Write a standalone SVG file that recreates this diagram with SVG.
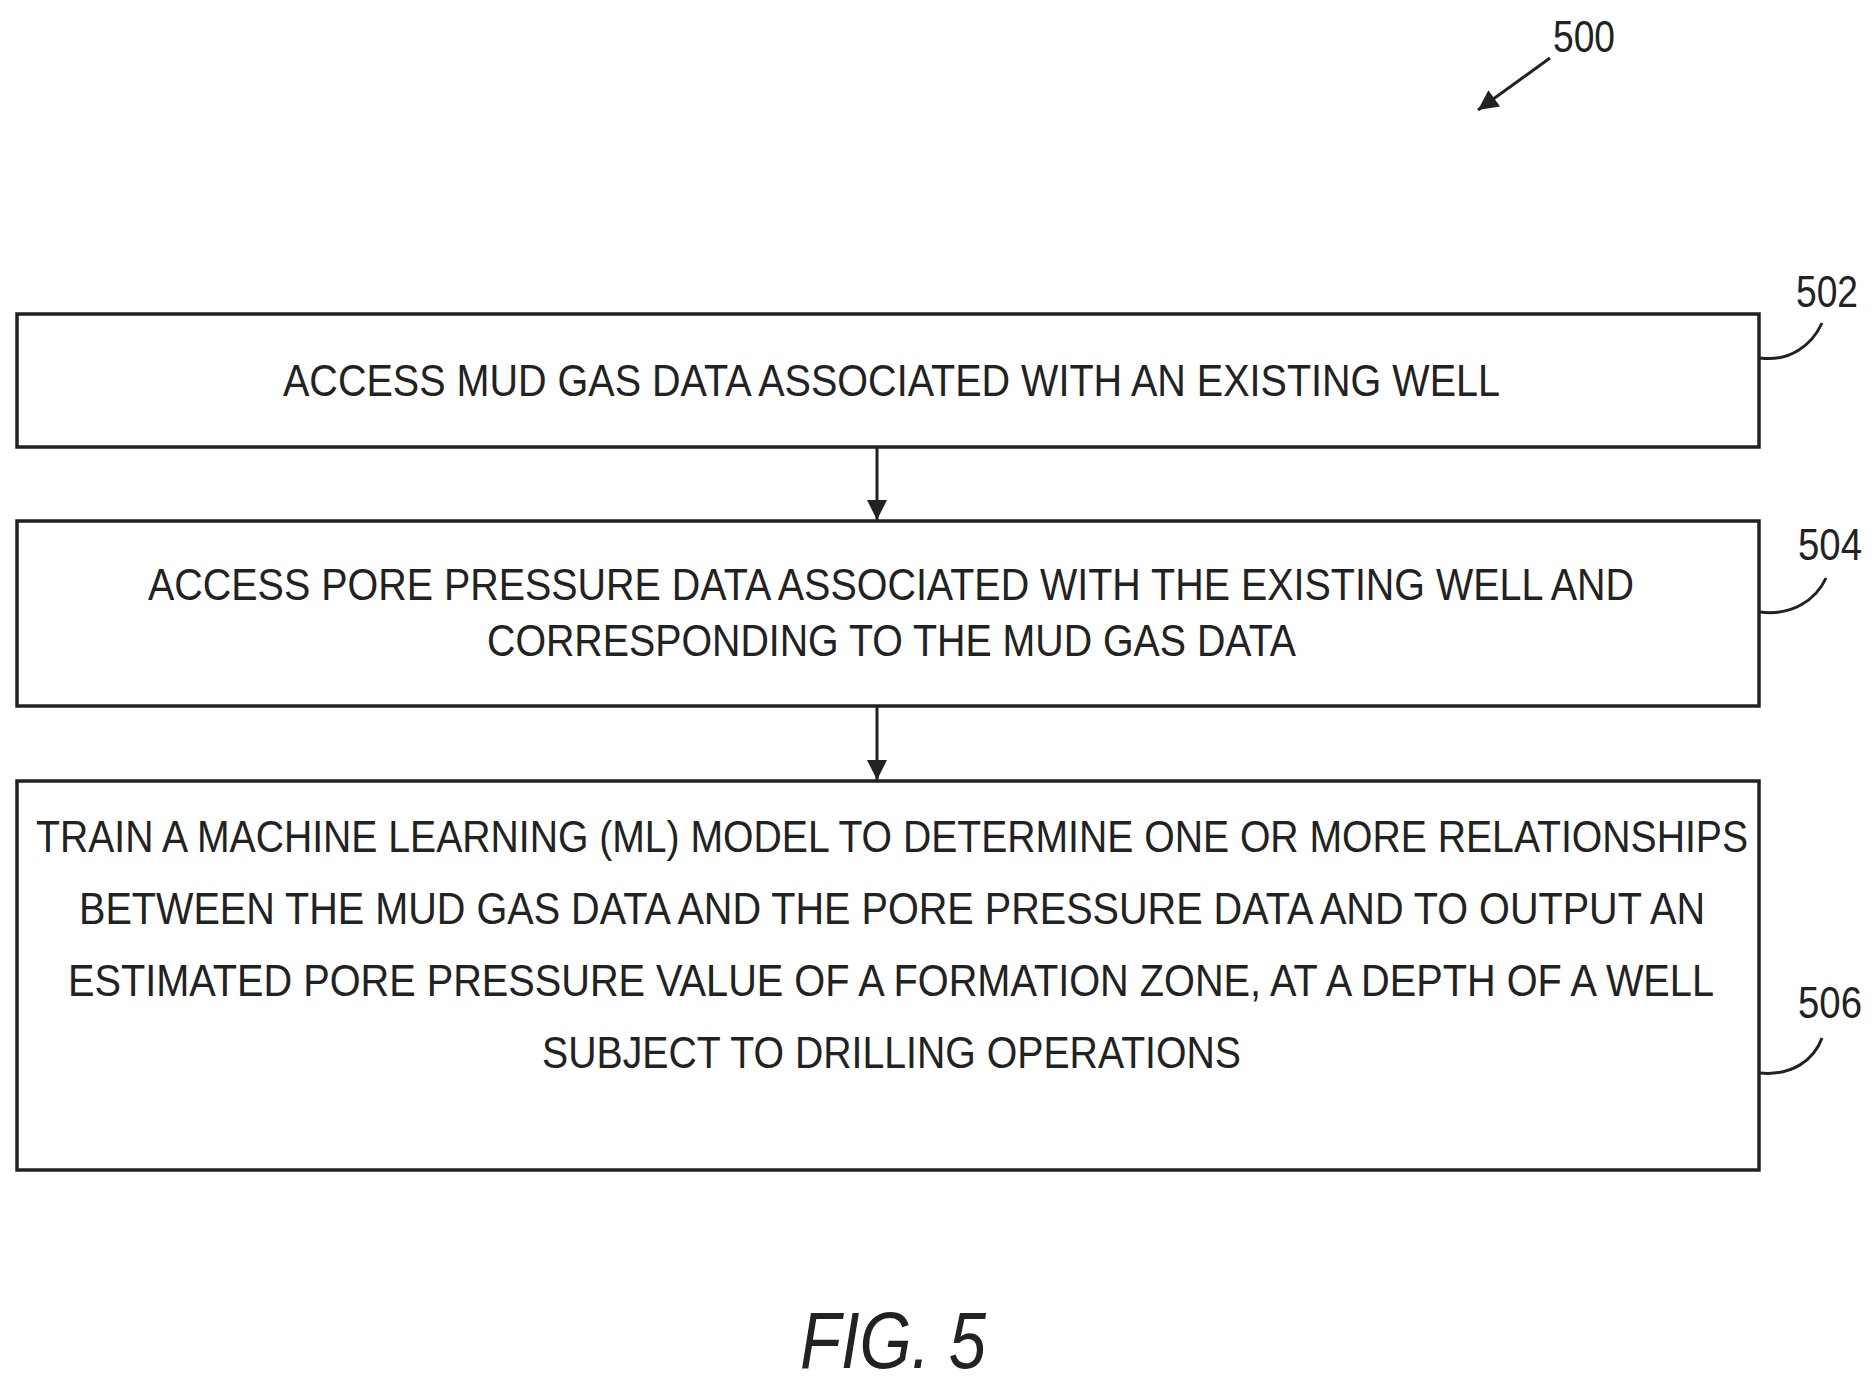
<svg xmlns="http://www.w3.org/2000/svg" width="1875" height="1384" viewBox="0 0 1875 1384">
<style>
.box{fill:#fff;stroke:#222;stroke-width:3.5}
.t{font-family:"Liberation Sans",Arial,sans-serif;font-size:44px;fill:#222;text-anchor:start}
.lbl{font-family:"Liberation Sans",Arial,sans-serif;font-size:44px;fill:#222}
.ln{fill:none;stroke:#222;stroke-width:3}
</style>
<defs>
<marker id="ah2" viewBox="0 0 10 10" refX="10" refY="5" markerWidth="24" markerHeight="20" orient="auto" markerUnits="userSpaceOnUse">
<path d="M0,0 L10,5 L0,10 z" fill="#222"/>
</marker>
</defs>
<rect width="1875" height="1384" fill="#fff"/>
<g id="label500">
<text class="lbl" x="1553" y="52" textLength="62" lengthAdjust="spacingAndGlyphs">500</text>
<line class="ln" x1="1550" y1="58" x2="1478" y2="110" marker-end="url(#ah2)"/>
</g>
<g id="node502">
<rect class="box" x="17" y="314" width="1742" height="133"/>
<text class="t" x="283" y="396" textLength="1217" lengthAdjust="spacingAndGlyphs">ACCESS MUD GAS DATA ASSOCIATED WITH AN EXISTING WELL</text>
<text class="lbl" x="1796" y="307" textLength="62" lengthAdjust="spacingAndGlyphs">502</text>
<path class="ln" d="M1760,358 C1790,362 1812,345 1822,323"/>
</g>
<g id="node504">
<rect class="box" x="17" y="521" width="1742" height="185"/>
<text class="t" x="148" y="600" textLength="1486" lengthAdjust="spacingAndGlyphs">ACCESS PORE PRESSURE DATA ASSOCIATED WITH THE EXISTING WELL AND</text>
<text class="t" x="487" y="656" textLength="809" lengthAdjust="spacingAndGlyphs">CORRESPONDING TO THE MUD GAS DATA</text>
<text class="lbl" x="1798" y="560" textLength="64" lengthAdjust="spacingAndGlyphs">504</text>
<path class="ln" d="M1760,612 C1792,616 1816,600 1826,578"/>
</g>
<g id="node506">
<rect class="box" x="17" y="781" width="1742" height="389"/>
<text class="t" x="36" y="852" textLength="1712" lengthAdjust="spacingAndGlyphs">TRAIN A MACHINE LEARNING (ML) MODEL TO DETERMINE ONE OR MORE RELATIONSHIPS</text>
<text class="t" x="79" y="924" textLength="1626" lengthAdjust="spacingAndGlyphs">BETWEEN THE MUD GAS DATA AND THE PORE PRESSURE DATA AND TO OUTPUT AN</text>
<text class="t" x="68" y="996" textLength="1646" lengthAdjust="spacingAndGlyphs">ESTIMATED PORE PRESSURE VALUE OF A FORMATION ZONE, AT A DEPTH OF A WELL</text>
<text class="t" x="542" y="1068" textLength="699" lengthAdjust="spacingAndGlyphs">SUBJECT TO DRILLING OPERATIONS</text>
<text class="lbl" x="1798" y="1018" textLength="64" lengthAdjust="spacingAndGlyphs">506</text>
<path class="ln" d="M1760,1073 C1792,1076 1814,1060 1822,1038"/>
</g>
<g id="connectors">
<line class="ln" x1="877" y1="448" x2="877" y2="520" marker-end="url(#ah2)"/>
<line class="ln" x1="877" y1="707" x2="877" y2="780" marker-end="url(#ah2)"/>
</g>
<text x="800" y="1368" font-family="Liberation Sans,Arial,sans-serif" font-style="italic" font-size="80" fill="#222" textLength="186" lengthAdjust="spacingAndGlyphs">FIG. 5</text>
</svg>
